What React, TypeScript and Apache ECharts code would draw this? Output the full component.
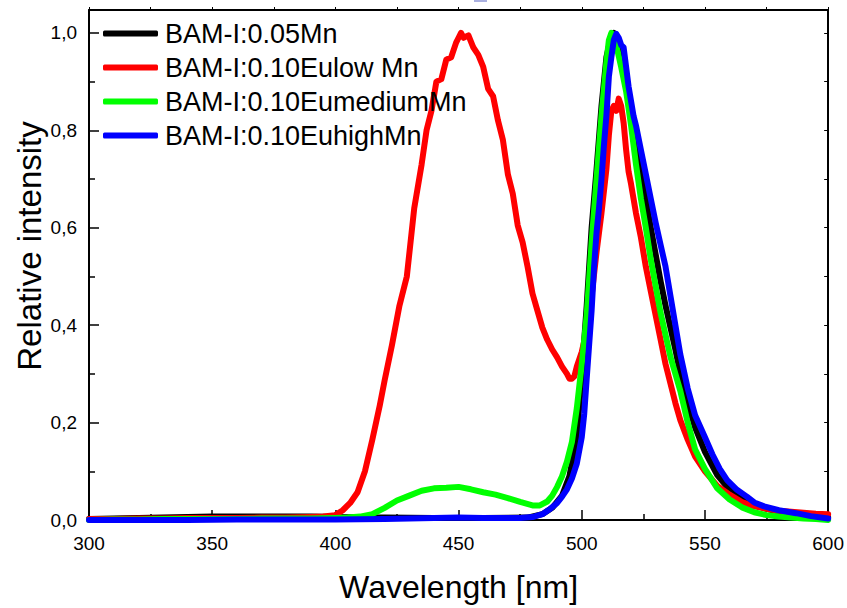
import React, { useEffect, useRef } from "react";
import * as echarts from "echarts";

const seriesNames = [
  "BAM-I:0.05Mn",
  "BAM-I:0.10Eulow Mn",
  "BAM-I:0.10EumediumMn",
  "BAM-I:0.10EuhighMn",
];
const seriesColors = ["#000000", "#ff0000", "#00ff00", "#0000ff"];

const xTicks = [300, 350, 400, 450, 500, 550, 600];
const yTicks = [0, 0.2, 0.4, 0.6, 0.8, 1.0];

const blackWl = [300,310,320,330,340,350,360,370,380,390,400,410,420,440,460,478,484,488,492,495,498,500,502,504,506,508,510,512,513,514,516,518,520,522,524,526,528,530,532,534,536,538,540,543,546,550,555,560,565,570,575,580,590,600];
const blackI = [0.002,0.003,0.004,0.005,0.006,0.007,0.007,0.007,0.007,0.007,0.006,0.005,0.005,0.004,0.004,0.005,0.012,0.025,0.05,0.09,0.17,0.3,0.44,0.6,0.72,0.85,0.95,0.995,1.0,0.99,0.95,0.9,0.84,0.78,0.72,0.66,0.6,0.545,0.49,0.44,0.395,0.35,0.3,0.24,0.19,0.14,0.092,0.062,0.043,0.031,0.023,0.017,0.01,0.005];

const redWl = [300,310,320,330,340,350,360,370,380,390,395,400,403,406,409,412,415,418,420,423,426,429,432,435,437,439,441,443,445,447,449,450,451,452,454,456,458,460,462,464,466,468,470,472,474,476,478,480,482,484,486,488,490,492,494,495,496,497,498,500,502,504,506,508,510,511,512,513,514,515,516,517,518,519,520,521,522,524,526,528,530,532,534,536,538,540,543,546,550,555,560,565,570,575,580,585,590,595,600];
const redI = [0.002,0.002,0.003,0.003,0.004,0.004,0.004,0.005,0.005,0.006,0.007,0.01,0.02,0.035,0.057,0.1,0.165,0.235,0.287,0.36,0.44,0.5,0.64,0.73,0.8,0.84,0.9,0.905,0.945,0.95,0.98,0.99,1.0,0.99,0.995,0.97,0.955,0.93,0.885,0.87,0.82,0.78,0.71,0.67,0.605,0.57,0.52,0.465,0.43,0.395,0.37,0.35,0.334,0.315,0.3,0.29,0.29,0.295,0.315,0.345,0.39,0.46,0.55,0.63,0.72,0.79,0.84,0.85,0.84,0.865,0.85,0.815,0.76,0.715,0.69,0.66,0.63,0.58,0.52,0.47,0.42,0.37,0.32,0.28,0.24,0.205,0.165,0.13,0.1,0.07,0.052,0.037,0.028,0.023,0.019,0.017,0.015,0.013,0.012];

const greenWl = [300,310,320,330,340,350,360,370,380,390,400,405,410,415,420,425,430,435,440,445,450,455,460,465,470,475,480,483,486,488,490,492,494,496,498,500,502,504,506,508,510,511,512,513,514,516,518,520,522,524,526,528,530,532,534,536,538,540,543,546,550,555,560,565,570,575,580,585,590,595,600];
const greenI = [0.0,0.001,0.001,0.002,0.002,0.002,0.002,0.003,0.003,0.003,0.004,0.005,0.007,0.012,0.025,0.04,0.05,0.06,0.065,0.066,0.068,0.063,0.057,0.052,0.045,0.037,0.03,0.03,0.038,0.05,0.068,0.09,0.12,0.16,0.23,0.32,0.42,0.57,0.7,0.83,0.94,0.985,1.0,0.995,0.975,0.93,0.88,0.81,0.73,0.66,0.6,0.535,0.48,0.425,0.38,0.335,0.3,0.265,0.2,0.145,0.105,0.065,0.042,0.026,0.016,0.01,0.007,0.005,0.003,0.002,0.0];

const blueWl = [300,320,340,360,380,400,420,430,440,450,460,470,475,480,484,487,490,492,494,496,498,500,501,502,503,504,505,506,507,508,509,510,511,512,513,514,515,516,517,518,519,520,521,522,524,526,528,530,532,534,536,538,540,543,546,550,553,556,559,563,567,570,574,580,587,593,600];
const blueI = [0.0,0.0,0.0,0.001,0.001,0.001,0.002,0.003,0.004,0.005,0.004,0.004,0.004,0.006,0.012,0.022,0.035,0.048,0.063,0.085,0.116,0.17,0.218,0.29,0.36,0.43,0.52,0.59,0.64,0.7,0.77,0.83,0.91,0.95,0.985,0.998,0.99,0.975,0.97,0.93,0.89,0.86,0.83,0.81,0.76,0.71,0.66,0.61,0.565,0.52,0.46,0.4,0.34,0.27,0.215,0.17,0.135,0.105,0.082,0.062,0.048,0.036,0.028,0.02,0.014,0.008,0.003];

const wavelengths = [blackWl, redWl, greenWl, blueWl];
const intensities = [blackI, redI, greenI, blueI];

const FONT = "'Liberation Sans', Arial, sans-serif";

export default function App() {
  const ref = useRef<HTMLDivElement>(null);
  useEffect(() => {
    if (!ref.current) return;
    const chart = echarts.init(ref.current, null, { renderer: "svg" });
    const xMin = xTicks[0];
    const xMax = xTicks[xTicks.length - 1];
    const series = seriesNames.map((name, k) => ({
      name,
      type: "line",
      xAxisIndex: 0,
      yAxisIndex: 0,
      data: wavelengths[k].map((w, i) => [w, intensities[k][i]]),
      showSymbol: false,
      symbol: "none",
      smooth: false,
      lineStyle: { color: seriesColors[k], width: 6, cap: "round", join: "round" },
      itemStyle: { color: seriesColors[k] },
      z: 2 + k,
    }));
    chart.setOption({
      animation: false,
      backgroundColor: "#ffffff",
      grid: { left: 89, top: 10, right: 14, bottom: 84, containLabel: false },
      legend: {
        orient: "vertical",
        left: 103,
        top: 20,
        padding: 0,
        icon: "roundRect",
        itemWidth: 55,
        itemHeight: 6,
        itemGap: 7,
        data: seriesNames,
        textStyle: { fontFamily: FONT, fontSize: 27, color: "#000", lineHeight: 27, padding: [0, 0, 0, 2] },
      },
      xAxis: [
        {
          type: "value",
          position: "bottom",
          min: xMin,
          max: xMax,
          interval: 50,
          name: "Wavelength [nm]",
          nameLocation: "middle",
          nameGap: 51,
          nameTextStyle: { fontFamily: FONT, fontSize: 32, color: "#000" },
          axisLine: { show: true, onZero: false, lineStyle: { color: "#000", width: 2 } },
          axisTick: { show: true, inside: true, length: 10, lineStyle: { color: "#000", width: 1.5 } },
          minorTick: { show: true, splitNumber: 2, length: 6, lineStyle: { color: "#000", width: 1.5 } },
          axisLabel: { fontFamily: FONT, fontSize: 19, color: "#000", margin: 14 },
          splitLine: { show: false },
        },
        {
          type: "value",
          position: "top",
          min: xMin,
          max: xMax,
          interval: 25,
          axisLine: { show: true, onZero: false, lineStyle: { color: "#000", width: 2 } },
          axisTick: { show: true, inside: false, length: 3, lineStyle: { color: "#000", width: 1 } },
          axisLabel: { show: false },
          splitLine: { show: false },
        },
      ],
      yAxis: [
        {
          type: "value",
          position: "left",
          min: 0,
          max: 1.047,
          interval: 0.2,
          axisLine: { show: true, onZero: false, lineStyle: { color: "#000", width: 2 } },
          axisTick: { show: true, inside: true, length: 10, lineStyle: { color: "#000", width: 1.5 } },
          minorTick: { show: true, splitNumber: 2, length: 6, lineStyle: { color: "#000", width: 1.5 } },
          axisLabel: {
            fontFamily: FONT,
            fontSize: 19,
            color: "#000",
            margin: 12,
            showMaxLabel: false,
            formatter: (v: number) => (yTicks.some((t) => Math.abs(t - v) < 1e-6) ? v.toFixed(1).replace(".", ",") : ""),
          },
          splitLine: { show: false },
        },
        {
          type: "value",
          position: "right",
          min: 0,
          max: 1.047,
          interval: 0.1,
          axisLine: { show: true, onZero: false, lineStyle: { color: "#000", width: 2 } },
          axisTick: { show: true, inside: true, length: 4, lineStyle: { color: "#000", width: 1 } },
          axisLabel: { show: false },
          splitLine: { show: false },
        },
      ],
      graphic: [
        {
          type: "text",
          x: 29,
          y: 246,
          rotation: Math.PI / 2,
          style: {
            text: "Relative intensity",
            fontFamily: FONT,
            fontSize: 33,
            fill: "#000",
            textAlign: "center",
            textVerticalAlign: "middle",
          },
        },
        {
          type: "rect",
          shape: { x: 474, y: 0, width: 13, height: 2 },
          style: { fill: "#aab0e0" },
        },
      ],
      series,
    });
    return () => chart.dispose();
  }, []);
  return <div ref={ref} style={{ position: "fixed", left: 0, top: 0, width: 847, height: 608 }} />;
}
